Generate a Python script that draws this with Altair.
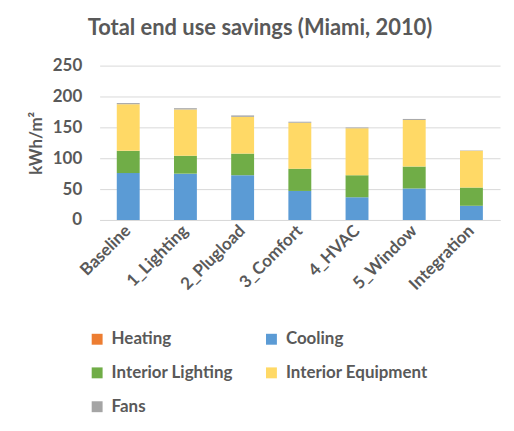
import altair as alt
import pandas as pd

categories = ["Baseline", "1_Lighting", "2_Plugload", "3_Comfort", "4_HVAC", "5_Window", "Integration"]
series = ["Heating", "Cooling", "Interior Lighting", "Interior Equipment", "Fans"]
heating = [0, 0, 0, 0, 0, 0, 0]
cooling = [76, 75, 72.5, 47, 37, 51, 23]
interior_lighting = [36, 29, 35, 36, 35.5, 35.5, 29.5]
interior_equipment = [75.5, 75, 59.5, 74.5, 76, 75.5, 59.5]
fans = [1.8, 2, 2.3, 1.6, 1.1, 1.6, 0.6]
colors = {"Heating": "#ED7D31", "Cooling": "#5B9BD5", "Interior Lighting": "#70AD47",
          "Interior Equipment": "#FFD966", "Fans": "#A5A5A5"}
# legend is filled column by column, so list entries in that order
legend_order = ["Heating", "Interior Lighting", "Fans", "Cooling", "Interior Equipment"]

vals = [heating, cooling, interior_lighting, interior_equipment, fans]
rows = []
for i, (s, v) in enumerate(zip(series, vals)):
    for c, x in zip(categories, v):
        rows.append({"Scenario": c, "Series": s, "Value": x, "order": i})
df = pd.DataFrame(rows)

FONT = "Lato"
TXT = "#595959"

chart = alt.Chart(df).mark_bar(size=23).encode(
    x=alt.X("Scenario:N", sort=categories, title=None,
            scale=alt.Scale(paddingInner=0.6, paddingOuter=0.3),
            axis=alt.Axis(labelAngle=-45, labelAlign="right", labelBaseline="middle",
                          labelFontSize=17, labelFont=FONT, labelFontWeight="bold",
                          labelColor=TXT, ticks=False, domainColor="#D9D9D9",
                          labelPadding=8)),
    y=alt.Y("Value:Q", stack="zero", title="kWh/m²",
            scale=alt.Scale(domain=[0, 250]),
            axis=alt.Axis(values=[0, 50, 100, 150, 200, 250], grid=True, gridColor="#D9D9D9",
                          domain=False, ticks=False, labelFontSize=17, labelFont=FONT,
                          labelFontWeight="bold", labelColor=TXT, labelPadding=18,
                          titleFont=FONT, titleFontSize=17, titleFontWeight="bold",
                          titleColor=TXT, titlePadding=7)),
    color=alt.Color("Series:N", sort=legend_order,
                    scale=alt.Scale(domain=legend_order, range=[colors[s] for s in legend_order]),
                    legend=alt.Legend(orient="none", legendX=-11, legendY=266, columns=2,
                                      title=None, symbolType="square", symbolSize=120,
                                      symbolStrokeWidth=0, labelFont=FONT, labelFontSize=17,
                                      labelFontWeight="bold", labelColor=TXT,
                                      columnPadding=30, rowPadding=16, labelOffset=6,
                                      labelLimit=300)),
    order=alt.Order("order:Q"),
).properties(
    width=402, height=155,
    title=alt.TitleParams("Total end use savings (Miami, 2010)", font=FONT, fontSize=22,
                          fontWeight="bold", color=TXT, anchor="middle", dx=-40, offset=17),
    autosize=alt.AutoSizeParams(type="none"),
    padding={"left": 92, "top": 57, "right": 6, "bottom": 200},
).configure_view(stroke=None)

chart.save("out.html", embed_options={"renderer": "svg", "actions": False})
